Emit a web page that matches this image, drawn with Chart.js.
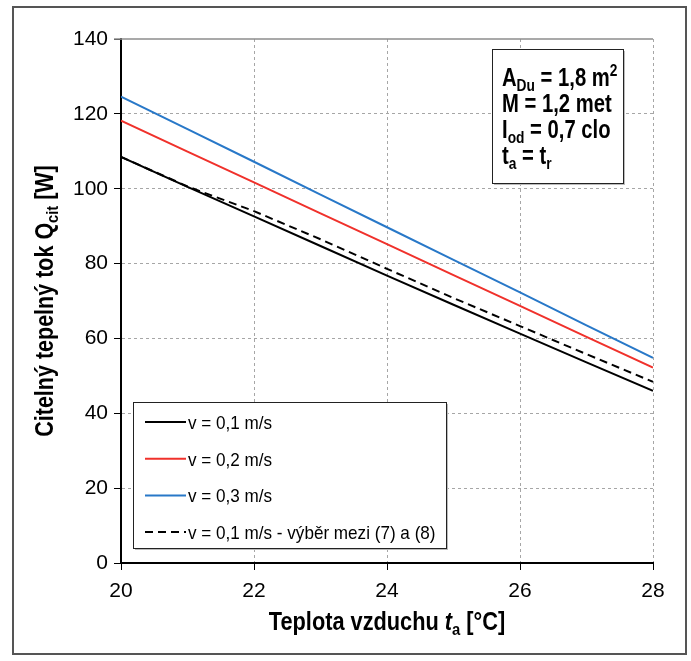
<!DOCTYPE html>
<html>
<head>
<meta charset="utf-8">
<script src="https://cdn.jsdelivr.net/npm/chart.js@4.4.1/dist/chart.umd.min.js"></script>
<style>
  html, body { margin: 0; background: #fff; }
</style>
</head>
<body>
<canvas id="chart" width="691" height="661"></canvas>
<script>
// air temperature t_a [°C]
const temps = [20, 21, 22, 23, 24, 25, 26, 27, 28];
// sensible heat flow Q_cit [W]
const qV01 = [108.5, 100.5, 92.6, 84.7, 76.8, 69.0, 61.3, 53.6, 46.0];
const qV02 = [118.2, 109.9, 101.7, 93.4, 85.2, 76.9, 68.7, 60.4, 52.2];
const qV03 = [124.6, 115.9, 107.2, 98.4, 89.7, 81.0, 72.3, 63.5, 54.8];
const qV01sel = [108.5, 100.6, 94.0, 86.5, 78.6, 70.8, 63.3, 55.8, 48.4];
const seriesLabels = ['v = 0,1 m/s', 'v = 0,2 m/s', 'v = 0,3 m/s', 'v = 0,1 m/s - výběr mezi (7) a (8)'];
const yTicks = [0, 20, 40, 60, 80, 100, 120, 140];
const xTicks = [20, 22, 24, 26, 28];

const SANS = '"Liberation Sans", Arial, sans-serif';

const pts = arr => temps.map((t, i) => ({ x: t, y: arr[i] }));

// draw a row of text pieces (sub/superscripts); sx squeezes the text horizontally
function drawRich(ctx, parts, x, y, align, sx) {
    sx = sx || 1;
    let total = 0;
    parts.forEach(p => {
        ctx.font = (p.style || '') + ' ' + p.size + 'px ' + SANS;
        p.w = ctx.measureText(p.t).width;
        total += p.w;
    });
    ctx.save();
    ctx.translate(x, y);
    ctx.scale(sx, 1);
    let cx = align === 'center' ? -total / 2 : 0;
    ctx.textAlign = 'left';
    ctx.textBaseline = 'alphabetic';
    parts.forEach(p => {
        ctx.font = (p.style || '') + ' ' + p.size + 'px ' + SANS;
        ctx.fillText(p.t, cx, p.dy || 0);
        cx += p.w;
    });
    ctx.restore();
}

const decorations = {
    id: 'decorations',
    afterDraw(chart) {
        const ctx = chart.ctx;
        const area = chart.chartArea;
        ctx.save();

        // outer frame
        ctx.strokeStyle = '#555';
        ctx.lineWidth = 2;
        ctx.strokeRect(13, 7, 673, 647);

        // top edge of plot
        ctx.strokeStyle = '#8c8c8c';
        ctx.lineWidth = 1.5;
        ctx.beginPath();
        ctx.moveTo(area.left - 7, area.top);
        ctx.lineTo(area.right, area.top);
        ctx.stroke();

        ctx.fillStyle = '#000';

        // y title
        ctx.save();
        ctx.translate(53, (area.top + area.bottom) / 2);
        ctx.rotate(-Math.PI / 2);
        drawRich(ctx, [
            { t: 'Citelný tepelný tok Q', size: 25, style: 'bold' },
            { t: 'cit', size: 17, style: 'bold', dy: 5 },
            { t: ' [W]', size: 25, style: 'bold' }
        ], 0, 0, 'center', 0.86);
        ctx.restore();

        // x title
        drawRich(ctx, [
            { t: 'Teplota vzduchu ', size: 25, style: 'bold' },
            { t: 't', size: 25, style: 'bold italic' },
            { t: 'a', size: 17, style: 'bold', dy: 5 },
            { t: ' [°C]', size: 25, style: 'bold' }
        ], (area.left + area.right) / 2, 630, 'center', 0.87);

        // legend box
        const lx = 133, ly = 402, lw = 313, lh = 146;
        ctx.fillStyle = '#bbb';
        ctx.fillRect(lx + 2, ly + 2, lw, lh);
        ctx.fillStyle = '#fff';
        ctx.fillRect(lx, ly, lw, lh);
        ctx.strokeStyle = '#222';
        ctx.lineWidth = 1;
        ctx.strokeRect(lx + 0.5, ly + 0.5, lw, lh);
        chart.data.datasets.forEach((ds, i) => {
            const yy = 422 + i * 36.7;
            ctx.strokeStyle = ds.borderColor;
            ctx.lineWidth = ds.borderWidth;
            ctx.setLineDash(ds.borderDash || []);
            ctx.beginPath();
            ctx.moveTo(145, yy);
            ctx.lineTo(186, yy);
            ctx.stroke();
            ctx.setLineDash([]);
            ctx.fillStyle = '#000';
            drawRich(ctx, [{ t: ds.label, size: 19 }], 188, yy + 7, 'left', 0.9);
        });

        // parameter box
        const bx = 492, by = 49, bw = 131, bh = 134;
        ctx.fillStyle = '#bbb';
        ctx.fillRect(bx + 2, by + 2, bw, bh);
        ctx.fillStyle = '#fff';
        ctx.fillRect(bx, by, bw, bh);
        ctx.strokeStyle = '#222';
        ctx.lineWidth = 1;
        ctx.strokeRect(bx + 0.5, by + 0.5, bw, bh);
        ctx.fillStyle = '#000';
        const tx = 502, sq = 0.81;
        drawRich(ctx, [
            { t: 'A', size: 25, style: 'bold' },
            { t: 'Du', size: 17, style: 'bold', dy: 5 },
            { t: ' = 1,8 m', size: 25, style: 'bold' },
            { t: '2', size: 17, style: 'bold', dy: -10 }
        ], tx, 86, 'left', sq);
        drawRich(ctx, [{ t: 'M = 1,2 met', size: 25, style: 'bold' }], tx, 112, 'left', sq);
        drawRich(ctx, [
            { t: 'I', size: 25, style: 'bold' },
            { t: 'od', size: 17, style: 'bold', dy: 5 },
            { t: ' = 0,7 clo', size: 25, style: 'bold' }
        ], tx, 138, 'left', sq);
        drawRich(ctx, [
            { t: 't', size: 25, style: 'bold' },
            { t: 'a', size: 17, style: 'bold', dy: 5 },
            { t: ' = t', size: 25, style: 'bold' },
            { t: 'r', size: 17, style: 'bold', dy: 5 }
        ], tx, 164, 'left', sq);

        ctx.restore();
    }
};

new Chart(document.getElementById('chart'), {
    type: 'line',
    data: {
        datasets: [
            { label: seriesLabels[0], data: pts(qV01), borderColor: '#000000', borderWidth: 2 },
            { label: seriesLabels[1], data: pts(qV02), borderColor: '#f0312b', borderWidth: 2 },
            { label: seriesLabels[2], data: pts(qV03), borderColor: '#2878c8', borderWidth: 2 },
            { label: seriesLabels[3], data: pts(qV01sel), borderColor: '#000000', borderWidth: 2, borderDash: [8, 5] }
        ]
    },
    options: {
        responsive: false,
        animation: false,
        events: [],
        elements: { point: { radius: 0 }, line: { tension: 0 } },
        layout: { padding: { left: 0, right: 38, top: 39, bottom: 0 } },
        plugins: { legend: { display: false }, tooltip: { enabled: false } },
        scales: {
            x: {
                type: 'linear',
                min: 20, max: 28,
                afterFit: s => { s.height = 98; },
                afterBuildTicks: s => { s.ticks = xTicks.map(v => ({ value: v })); },
                ticks: { color: '#000', font: { family: SANS, size: 21 }, padding: 9, maxRotation: 0 },
                grid: { color: '#a6a6a6', tickColor: '#000', tickLength: 7, tickBorderDash: [] },
                border: { color: '#000', width: 2, dash: [3, 3] }
            },
            y: {
                min: 0, max: 140,
                afterFit: s => { s.width = 121; },
                afterBuildTicks: s => { s.ticks = yTicks.map(v => ({ value: v })); },
                ticks: { color: '#000', font: { family: SANS, size: 21 }, padding: 6 },
                grid: { color: c => c.tick && c.tick.value === 140 ? 'rgba(0,0,0,0)' : '#a6a6a6', tickColor: '#000', tickLength: 7, tickBorderDash: [] },
                border: { color: '#000', width: 2, dash: [3, 3] }
            }
        }
    },
    plugins: [decorations]
});
</script>
</body>
</html>
